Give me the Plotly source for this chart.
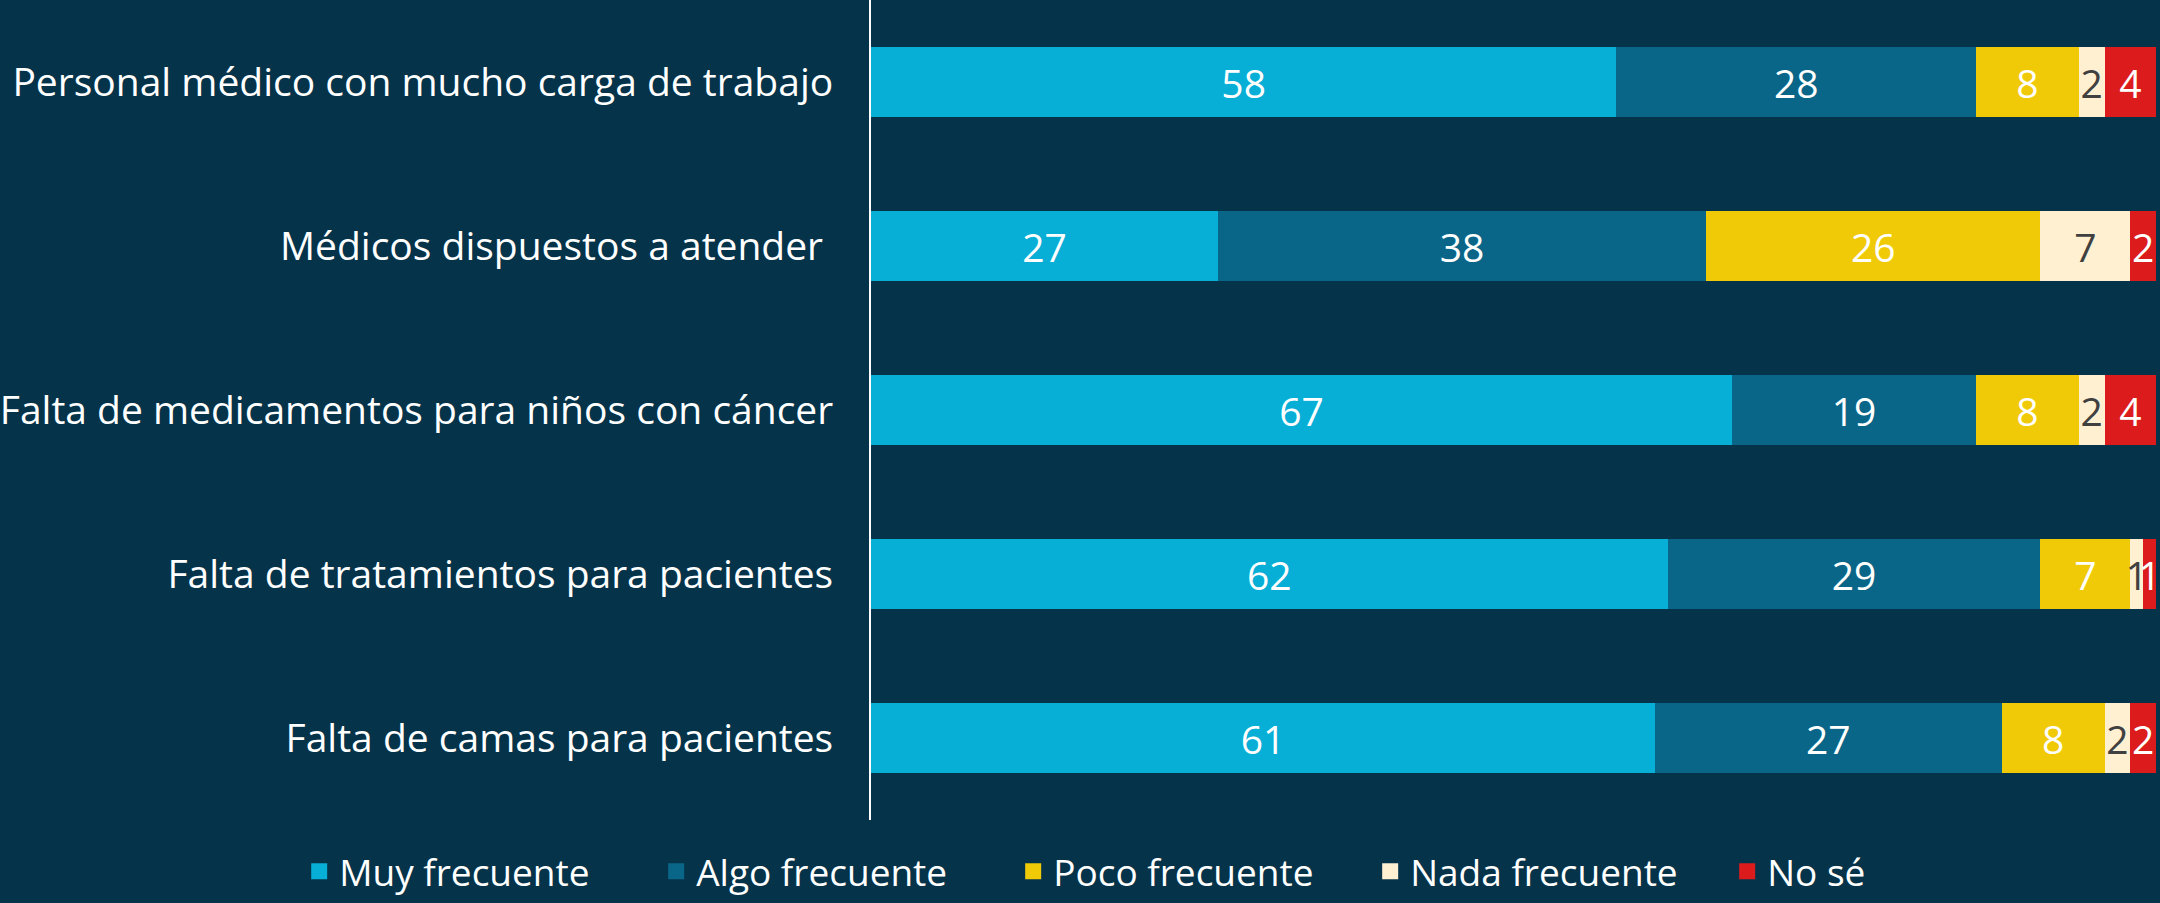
import plotly.graph_objects as go

categories = [
    "Personal médico con mucho carga de trabajo",
    "Médicos dispuestos a atender ",
    "Falta de medicamentos para niños con cáncer",
    "Falta de tratamientos para pacientes",
    "Falta de camas para pacientes",
]
series_names = ["Muy frecuente", "Algo frecuente", "Poco frecuente", "Nada frecuente", "No sé"]
muy = [58, 27, 67, 62, 61]
algo = [28, 38, 19, 29, 27]
poco = [8, 26, 8, 7, 8]
nada = [2, 7, 2, 1, 2]
nose = [4, 2, 4, 1, 2]
values = [muy, algo, poco, nada, nose]
colors = ["#07AED6", "#0A6688", "#F0CA07", "#FFF0D2", "#DC1C1C"]
text_colors = ["white", "white", "white", "#404040", "white"]

BG = "#05334A"
FONT = "Open Sans"

fig = go.Figure()
for name, vals, col, tcol in zip(series_names, values, colors, text_colors):
    fig.add_trace(go.Bar(
        y=categories, x=vals, name=name, orientation="h",
        legendgroup=name, showlegend=False,
        marker=dict(color=col, line=dict(width=0)),
        text=[str(v) for v in vals], textposition="inside",
        insidetextanchor="middle", textangle=0, constraintext="none",
        textfont=dict(color=tcol, size=39, family=FONT),
        width=0.43,
    ))
# legend entries (square swatches)
for name, col in zip(series_names, colors):
    fig.add_trace(go.Scatter(
        x=[None], y=[None], mode="markers", name=name, legendgroup=name,
        marker=dict(symbol="square", size=22, color=col, line=dict(width=0)),
        showlegend=True, hoverinfo="skip",
    ))

fig.update_layout(
    barmode="stack",
    width=2160, height=903,
    paper_bgcolor=BG, plot_bgcolor=BG,
    margin=dict(l=865, r=4, t=0, b=82),
    font=dict(family=FONT, color="white", size=36),
    xaxis=dict(range=[0, 100], visible=False, fixedrange=True),
    yaxis=dict(autorange="reversed", showline=True, linecolor="white", linewidth=2,
               ticks="", showgrid=False, ticklabelstandoff=28,
               tickfont=dict(size=39, color="white", family=FONT)),
    legend=dict(orientation="h",
                x=-0.445, xanchor="left", y=-0.063, yanchor="middle",
                font=dict(size=37, color="white", family=FONT),
                entrywidth=312, entrywidthmode="pixels", tracegroupgap=0,
                traceorder="normal", bgcolor="rgba(0,0,0,0)"),
    showlegend=True,
)

fig.write_html(
    "out.html",
    config={"displayModeBar": False},
    post_script="document.body.style.margin='0';document.body.style.padding='0';document.body.style.background='#05334A';",
)
